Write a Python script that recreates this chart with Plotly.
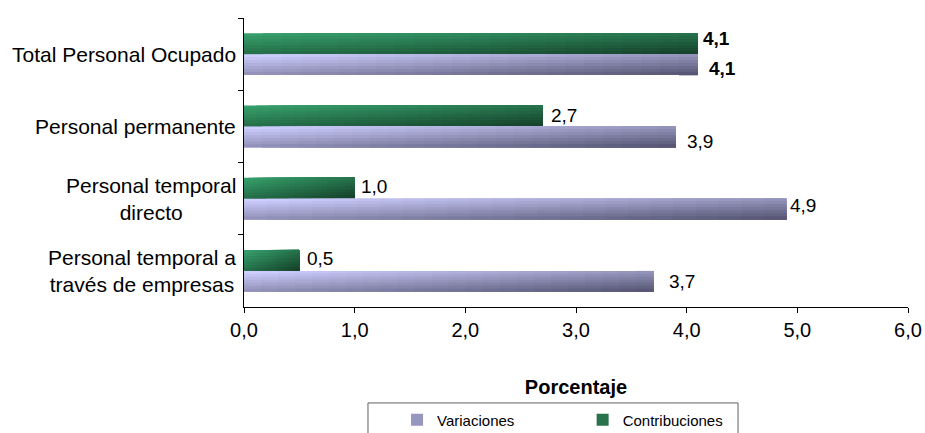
import plotly.graph_objects as go

# Categories (top to bottom) and the two series, in percent
categories = [
    "Total Personal Ocupado",
    "Personal permanente",
    "Personal temporal<br>directo",
    "Personal temporal a<br>través de empresas",
]
variaciones = [4.1, 3.9, 4.9, 3.7]
contribuciones = [4.1, 2.7, 1.0, 0.5]
x_ticks = [0, 1, 2, 3, 4, 5, 6]

FONT = "Liberation Sans, Arial, sans-serif"

# bar geometry in category units
BAR_H = 0.29
N_STRIPS = 7      # vertical steps of the shading
N_SEGS = 24       # horizontal steps of the shading


def mix(c0, c1, t):
    return "rgb(%d,%d,%d)" % tuple(round(a + (b - a) * t) for a, b in zip(c0, c1))


# diagonal shading: light at top-left, dark at bottom-right
SERIES = [
    # name, values, offset of the bar, top-left colour, bottom-right colour
    ("Contribuciones", contribuciones, -BAR_H, (54, 158, 106), (22, 68, 44)),
    ("Variaciones", variaciones, 0.0, (206, 206, 255), (88, 88, 118)),
]

fig = go.Figure()

# Each shading step is drawn from its own start to the far corner of the bar,
# later steps painting over earlier ones, so no seams appear between steps.
for name, vals, off, c_tl, c_br in SERIES:
    for i in range(N_STRIPS):
        ty = i / (N_STRIPS - 1)
        for j in range(N_SEGS):
            tx = j / (N_SEGS - 1)
            fig.add_trace(go.Bar(
                orientation="h",
                y=categories,
                x=[v * (N_SEGS - j) / N_SEGS for v in vals],
                base=[v * j / N_SEGS for v in vals],
                offset=off + i * BAR_H / N_STRIPS,
                width=BAR_H * (N_STRIPS - i) / N_STRIPS,
                marker=dict(color=mix(c_tl, c_br, (tx + ty) / 2), line=dict(width=0)),
                showlegend=False,
                hoverinfo="skip",
            ))

# legend entries
fig.add_trace(go.Bar(x=[None], y=[None], orientation="h", name="Variaciones",
                     marker=dict(color="rgb(150,150,190)", line=dict(width=0)),
                     legend="legend"))
fig.add_trace(go.Bar(x=[None], y=[None], orientation="h", name="Contribuciones",
                     marker=dict(color="rgb(40,115,76)", line=dict(width=0)),
                     legend="legend2"))


def fmt(v):
    return f"{v:.1f}".replace(".", ",")


annotations = []

# category labels, centred line by line, right-aligned against the axis
for k, cat in enumerate(categories):
    annotations.append(dict(
        x=0, xref="paper", y=k, yref="y", text=cat, showarrow=False,
        xanchor="right", yanchor="middle", align="center", xshift=-6,
        font=dict(family=FONT, size=21, color="#000000"),
    ))

# value labels next to the bar ends
contrib_dx = [3, 6, 4, 6]
contrib_dy = [-5, 0, -2, -2]
var_dx = [9, 9, 2, 14]
var_dy = [4, 5, -4, 0]
for k in range(len(categories)):
    bold = k == 0
    for vals, centre, dxs, dys in (
        (contribuciones, k - BAR_H / 2, contrib_dx, contrib_dy),
        (variaciones, k + BAR_H / 2, var_dx, var_dy),
    ):
        txt = fmt(vals[k])
        annotations.append(dict(
            x=vals[k], xref="x", y=centre, yref="y",
            text=f"<b>{txt}</b>" if bold else txt,
            showarrow=False, xanchor="left", yanchor="middle",
            xshift=dxs[k], yshift=-dys[k],
            font=dict(family=FONT, size=19, color="#000000"),
        ))

fig.update_layout(
    width=925, height=433,
    margin=dict(l=244, r=17, t=18, b=126, autoexpand=False),
    paper_bgcolor="white", plot_bgcolor="white",
    barmode="overlay",
    separators=",.",
    font=dict(family=FONT, color="#000000"),
    annotations=annotations,
    xaxis=dict(
        range=[0, 6], tickvals=x_ticks, tickformat=".1f",
        showgrid=False, zeroline=False,
        showline=True, linecolor="#000000", linewidth=1,
        ticks="outside", ticklen=5, tickcolor="#000000",
        tickfont=dict(family=FONT, size=20, color="#000000"),
        title=dict(text="<b>Porcentaje</b>", standoff=39,
                   font=dict(family=FONT, size=20, color="#000000")),
    ),
    yaxis=dict(
        type="category", categoryorder="array", categoryarray=categories,
        range=[3.5, -0.5],
        showgrid=False, zeroline=False,
        showline=True, linecolor="#000000", linewidth=1,
        ticks="outside", ticklen=5, tickcolor="#000000", tickson="boundaries",
        showticklabels=False,
    ),
    legend=dict(x=0.2305, y=-0.391, xanchor="left", yanchor="middle",
                orientation="h", bgcolor="rgba(0,0,0,0)", borderwidth=0,
                font=dict(family=FONT, size=15, color="#000000")),
    legend2=dict(x=0.510, y=-0.391, xanchor="left", yanchor="middle",
                 orientation="h", bgcolor="rgba(0,0,0,0)", borderwidth=0,
                 font=dict(family=FONT, size=15, color="#000000")),
    shapes=[dict(type="rect", xref="paper", yref="paper",
                 x0=0.1867, x1=0.744, y0=-0.332, y1=-0.5,
                 line=dict(color="#606060", width=1), fillcolor="rgba(0,0,0,0)",
                 layer="below")],
)

fig.write_html("out.html")
